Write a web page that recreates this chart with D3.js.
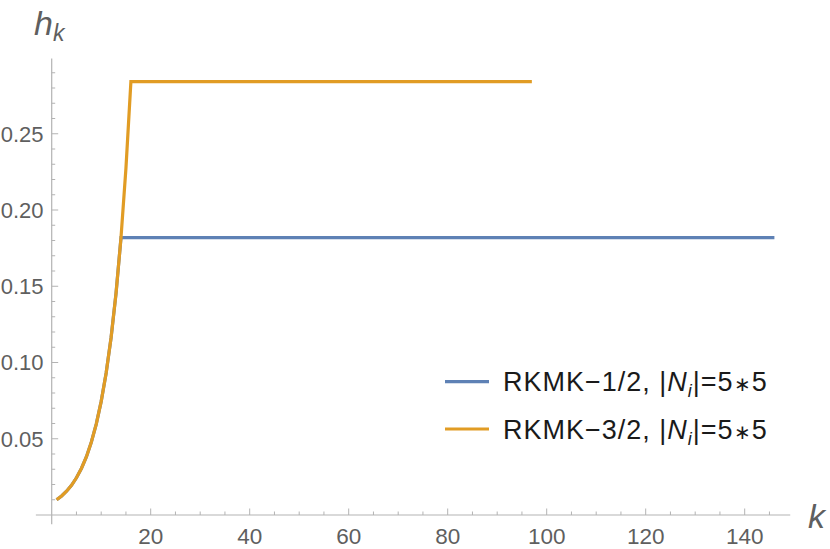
<!DOCTYPE html>
<meta charset="utf-8">
<style>
  body { margin: 0; background: #fff; }
  svg text { font-family: "Liberation Sans", Arial, sans-serif; }
</style>
<div id="chart"></div>
<script src="https://d3js.org/d3.v7.min.js"></script>
<script>

// step sizes h_k
var blueK = [1, 2, 3, 4, 5, 6, 7, 8, 9, 10, 11, 12, 13, 14, 146];
var blueH = [0.0100, 0.0125, 0.0156, 0.0195, 0.0244, 0.0305, 0.0381, 0.0477, 0.0596, 0.0745, 0.0931, 0.1164, 0.1455, 0.1819, 0.1819];

var orangeK = [1, 2, 3, 4, 5, 6, 7, 8, 9, 10, 11, 12, 13, 14, 15, 16, 97];
var orangeH = [0.0100, 0.0125, 0.0156, 0.0195, 0.0244, 0.0305, 0.0381, 0.0477, 0.0596, 0.0745, 0.0931, 0.1164, 0.1455, 0.1819, 0.2274, 0.2842, 0.2842];

var seriesNames = ["RKMK\u22121/2", "RKMK\u22123/2"];
var xTicks = [20, 40, 60, 80, 100, 120, 140];
var yTicks = [0.05, 0.10, 0.15, 0.20, 0.25];

var width = 830, height = 549;

var svg = d3.select("#chart")
    .append("svg")
    .attr("width", width)
    .attr("height", height);

var x = d3.scaleLinear().domain([0, 150]).range([51.7, 794.2]);
var y = d3.scaleLinear().domain([0, 0.3]).range([515, 57.5]);

var axisColor = "#b3b3b3",
    labelColor = "#5f5f5f";

// axes lines
svg.append("line")
    .attr("x1", x(-3.2)).attr("x2", x(149.2))
    .attr("y1", y(0)).attr("y2", y(0))
    .attr("stroke", axisColor).attr("stroke-width", 1.2);

svg.append("line")
    .attr("x1", x(0)).attr("x2", x(0))
    .attr("y1", y(-0.006)).attr("y2", y(0.2994))
    .attr("stroke", axisColor).attr("stroke-width", 1.2);

// minor + major ticks
var xMinor = d3.range(5, 150, 5).filter(function(d) { return d % 20 != 0; });
var yMinor = d3.range(1, 30).map(function(d) { return d / 100; }).filter(function(d, i) { return (i + 1) % 5 != 0; });

svg.append("g").selectAll("line")
    .data(xMinor)
    .enter().append("line")
    .attr("x1", x).attr("x2", x)
    .attr("y1", y(0)).attr("y2", y(0) - 3.5)
    .attr("stroke", axisColor);

svg.append("g").selectAll("line")
    .data(xTicks)
    .enter().append("line")
    .attr("x1", x).attr("x2", x)
    .attr("y1", y(0)).attr("y2", y(0) - 6.5)
    .attr("stroke", axisColor);

svg.append("g").selectAll("line")
    .data(yMinor)
    .enter().append("line")
    .attr("x1", x(0)).attr("x2", x(0) + 3.5)
    .attr("y1", y).attr("y2", y)
    .attr("stroke", axisColor);

svg.append("g").selectAll("line")
    .data(yTicks)
    .enter().append("line")
    .attr("x1", x(0)).attr("x2", x(0) + 6.5)
    .attr("y1", y).attr("y2", y)
    .attr("stroke", axisColor);

// tick labels
svg.append("g").selectAll("text")
    .data(xTicks)
    .enter().append("text")
    .attr("x", x)
    .attr("y", 544)
    .attr("text-anchor", "middle")
    .attr("font-size", 22.5)
    .attr("fill", labelColor)
    .text(function(d) { return d; });

svg.append("g").selectAll("text")
    .data(yTicks)
    .enter().append("text")
    .attr("x", 43.5)
    .attr("y", function(d) { return y(d); })
    .attr("dy", "0.36em")
    .attr("text-anchor", "end")
    .attr("font-size", 22)
    .attr("fill", labelColor)
    .text(d3.format(".2f"));

// axis labels
var hk = svg.append("text")
    .attr("x", 34)
    .attr("y", 35)
    .attr("font-size", 34)
    .attr("font-style", "italic")
    .attr("fill", labelColor);
hk.append("tspan").text("h");
hk.append("tspan").attr("font-size", 23).attr("dy", 6).text("k");

svg.append("text")
    .attr("x", 808)
    .attr("y", 528)
    .attr("font-size", 34)
    .attr("font-style", "italic")
    .attr("fill", labelColor)
    .text("k");

// lines
var line = d3.line()
    .x(function(d) { return x(d[0]); })
    .y(function(d) { return y(d[1]); });

var series = [
  { name: seriesNames[0], color: "#5e81b5", pts: d3.zip(blueK, blueH) },
  { name: seriesNames[1], color: "#e19c24", pts: d3.zip(orangeK, orangeH) }
];

svg.append("g").selectAll("path")
    .data(series)
    .enter().append("path")
    .attr("d", function(d) { return line(d.pts); })
    .attr("fill", "none")
    .attr("stroke", function(d) { return d.color; })
    .attr("stroke-width", 3.2)
    .attr("stroke-linejoin", "miter");

// legend
var legend = svg.append("g").selectAll("g")
    .data(series)
    .enter().append("g")
    .attr("transform", function(d, i) { return "translate(445," + (381.7 + i * 47.3) + ")"; });

legend.append("line")
    .attr("x1", 0).attr("x2", 44)
    .attr("stroke", function(d) { return d.color; })
    .attr("stroke-width", 3.2);

var lt = legend.append("text")
    .attr("x", 58)
    .attr("y", 9.5)
    .attr("font-size", 27)
    .attr("letter-spacing", 1)
    .attr("fill", "#1a1a1a");
lt.append("tspan").text(function(d) { return d.name + ", |"; });
lt.append("tspan").attr("font-style", "italic").text("N");
lt.append("tspan").attr("font-style", "italic").attr("font-size", 18).attr("dy", 6).text("i");
lt.append("tspan").attr("dy", -6).text("|=5");
lt.append("tspan").attr("font-size", 20).text("\u2217");
lt.append("tspan").text("5");

</script>
